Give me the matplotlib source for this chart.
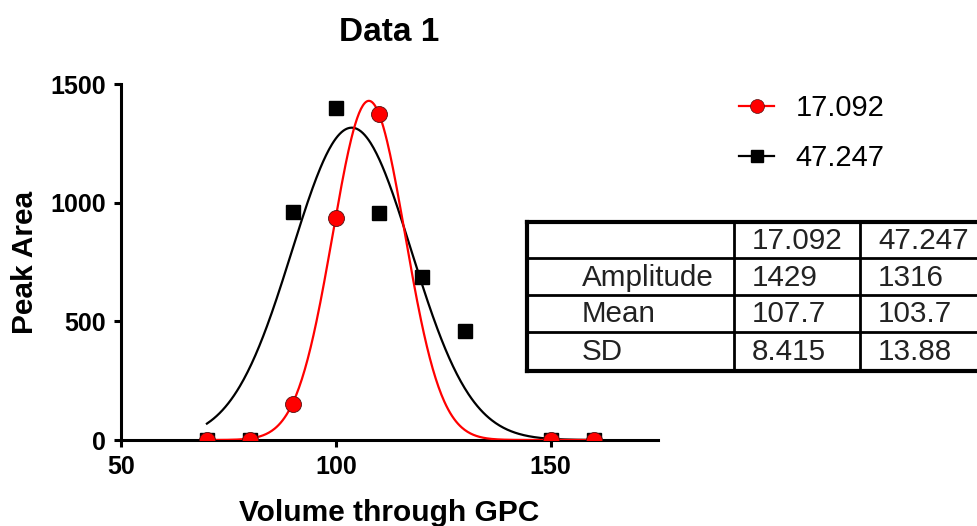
import numpy as np
import matplotlib
matplotlib.use("Agg")
import matplotlib.pyplot as plt
from matplotlib.lines import Line2D

plt.rcParams['font.family'] = ['Liberation Sans', 'DejaVu Sans']

# ---- data ----
x_red = [70, 80, 90, 100, 110, 150, 160]
y_red = [0, 0, 153, 935, 1375, 0, 0]
x_black = [70, 80, 90, 100, 110, 120, 130, 150, 160]
y_black = [0, 0, 960, 1400, 955, 688, 460, 0, 0]

series_names = ["17.092", "47.247"]
param_names = ["Amplitude", "Mean", "SD"]
params_red = ["1429", "107.7", "8.415"]
params_black = ["1316", "103.7", "13.88"]
amp = [1429, 1316]
mean = [107.7, 103.7]
sd = [8.415, 13.88]

xticks = [50, 100, 150]
yticks = [0, 500, 1000, 1500]

W, H = 977, 526
fig = plt.figure(figsize=(W / 100, H / 100), dpi=100)
ax = fig.add_axes([121 / W, 1 - 440 / H, (658 - 121) / W, (440 - 84) / H])

xx = np.linspace(70, 160, 400)
def gauss(x, a, m, s):
    return a * np.exp(-(x - m) ** 2 / (2 * s ** 2))

ax.plot(xx, gauss(xx, amp[1], mean[1], sd[1]), color='black', lw=1.6, zorder=2)
ax.plot(xx, gauss(xx, amp[0], mean[0], sd[0]), color='#ff0000', lw=1.6, zorder=3)
ax.plot(x_black, y_black, 's', color='black', ms=9.5, zorder=4)
ax.plot(x_red, y_red, 'o', color='#ff0000', mec='#551111', mew=0.6, ms=11.5, zorder=5)

ax.set_xlim(50, 175)
ax.set_ylim(0, 1500)
ax.set_xticks(xticks)
ax.set_yticks(yticks)
for s in ['top', 'right']:
    ax.spines[s].set_visible(False)
for s in ['left', 'bottom']:
    ax.spines[s].set_linewidth(2.2)
ax.tick_params(width=2.2, length=5, labelsize=18, pad=6)
for lab in ax.get_xticklabels() + ax.get_yticklabels():
    lab.set_fontweight('bold')
ax.set_title("Data 1", fontsize=24, fontweight='bold', pad=31)
ax.set_xlabel("Volume through GPC", fontsize=21.5, fontweight='bold', labelpad=14)
ax.set_ylabel("Peak Area", fontsize=21.5, fontweight='bold', labelpad=8)

# legend
h1 = Line2D([], [], color='#ff0000', lw=1.6, marker='o', ms=10, mec='#551111', mew=0.5)
h2 = Line2D([], [], color='black', lw=1.6, marker='s', ms=8.5)
fig.legend([h1, h2], series_names, loc='upper left',
           bbox_to_anchor=(739 / W, 1 - 94 / H), frameon=False, borderpad=0,
           borderaxespad=0, fontsize=21, handlelength=1.2, handletextpad=0.75,
           labelspacing=0.75)

# table overlay in pixel coordinates
tb = fig.add_axes([0, 0, 1, 1])
tb.set_xlim(0, W)
tb.set_ylim(H, 0)
tb.axis('off')
tb.patch.set_alpha(0)
col_x = [527, 734, 860, 986]
row_y = [222, 258, 295, 332, 371]
tb.fill_between([col_x[0], col_x[-1]], row_y[0], row_y[-1], color='white', zorder=0)
for yv in row_y:
    lw = 3 if yv in (row_y[0], row_y[-1]) else 2
    tb.plot([col_x[0], col_x[-1]], [yv, yv], color='black', lw=lw, solid_capstyle='projecting')
for xv in col_x:
    lw = 3 if xv == col_x[0] else 2
    tb.plot([xv, xv], [row_y[0], row_y[-1]], color='black', lw=lw, solid_capstyle='projecting')

tc = '#222222'
fs = 21.3
def cell_y(i):
    return (row_y[i] + row_y[i + 1]) / 2 + 1
for j, name in enumerate(series_names):
    tb.text(col_x[j + 1] + 18, cell_y(0), name, fontsize=fs, color=tc, va='center', ha='left')
cols = [params_red, params_black]
for i, pname in enumerate(param_names):
    tb.text(col_x[0] + 55, cell_y(i + 1), pname, fontsize=fs, color=tc, va='center', ha='left')
    for j in range(2):
        tb.text(col_x[j + 1] + 18, cell_y(i + 1), cols[j][i], fontsize=fs, color=tc, va='center', ha='left')

fig.savefig("out.png", dpi=100)
